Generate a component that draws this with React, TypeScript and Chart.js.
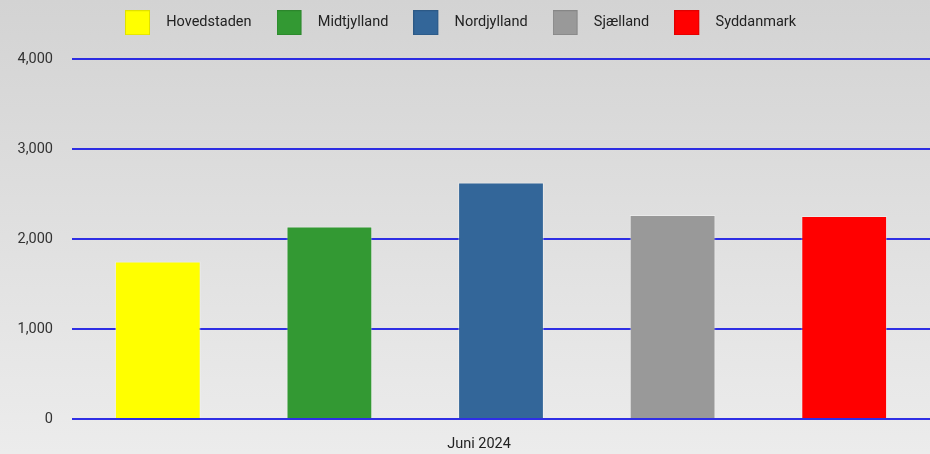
import React, { useEffect, useRef } from "react";
import { Chart, registerables } from "chart.js";

Chart.register(...registerables);

const categories = ["Juni 2024"];
const regions = ["Hovedstaden", "Midtjylland", "Nordjylland", "Sjælland", "Syddanmark"];
const values = [1750, 2138, 2628, 2268, 2255];
const colors = ["#ffff00", "#339933", "#336699", "#999999", "#ff0000"];
const yTicks = [0, 1000, 2000, 3000, 4000];

function makeSwatch(color: string): HTMLCanvasElement {
  const c = document.createElement("canvas");
  c.width = 34;
  c.height = 25;
  const ctx = c.getContext("2d")!;
  ctx.fillStyle = color;
  ctx.fillRect(0, 0, 25, 25);
  ctx.strokeStyle = "rgba(0,0,0,0.12)";
  ctx.lineWidth = 1;
  ctx.strokeRect(0.5, 0.5, 24, 24);
  return c;
}

export default function App() {
  const ref = useRef<HTMLCanvasElement>(null);
  useEffect(() => {
    document.body.style.margin = "0";
    const swatches = colors.map(makeSwatch);
    const chart = new Chart(ref.current!, {
      type: "bar",
      data: {
        labels: categories,
        datasets: regions.map((r, i) => ({
          label: r,
          data: [values[i]],
          backgroundColor: colors[i],
          borderColor: "rgba(255,255,255,0.35)",
          borderWidth: 1,
          barPercentage: 0.5,
          categoryPercentage: 1.0,
        })),
      },
      options: {
        animation: false,
        responsive: false,
        maintainAspectRatio: false,
        layout: { padding: { left: 0, top: 0, bottom: 0, right: -1 } },
        plugins: {
          tooltip: { enabled: false },
          legend: {
            position: "top",
            align: "center",
            labels: {
              usePointStyle: true,
              pointStyleWidth: 34,
              padding: 25,
              color: "#222",
              font: { family: "Roboto", size: 14.5 },
              generateLabels: (chart: any) => {
                const base = Chart.defaults.plugins.legend.labels.generateLabels(chart);
                return base.map((l: any, i: number) => ({ ...l, pointStyle: swatches[i] }));
              },
            },
          },
        },
        scales: {
          x: {
            grid: { display: false, drawTicks: false },
            border: { display: false },
            ticks: {
              color: "#222",
              font: { family: "Roboto", size: 14.5 },
              padding: 17,
              labelOffset: -22,
            },
            afterFit: (s: any) => { s.height = 35; },
          },
          y: {
            min: 0,
            max: 4000,
            afterBuildTicks: (s: any) => { s.ticks = yTicks.map((v) => ({ value: v })); },
            grid: { color: "rgba(20,20,228,0.88)", lineWidth: 2, drawTicks: false },
            border: { display: false },
            ticks: {
              color: "#333",
              font: { family: "Roboto", size: 14.5 },
              padding: 19,
              callback: (v: any) => Number(v).toLocaleString("en-US"),
            },
            afterFit: (s: any) => { s.width = 72; },
          },
        },
      },
      plugins: [
        {
          id: "legendFix",
          beforeInit(c: any) {
            const lg = c.legend;
            if (lg) {
              const orig = lg.fit;
              lg.fit = function () {
                orig.call(this);
                this.height = 59;
              };
            }
          },
          afterLayout(c: any) {
            const lg = c.legend;
            if (lg) {
              lg.top -= 9.5;
              lg.bottom -= 9.5;
              lg.left -= 5;
              lg.right -= 5;
            }
          },
        },
      ],
    });
    return () => chart.destroy();
  }, []);
  return (
    <div
      style={{
        width: 930,
        height: 454,
        overflow: "hidden",
        background: "linear-gradient(to bottom, #d3d3d3 0%, #ececec 100%)",
      }}
    >
      <canvas ref={ref} width={930} height={454} style={{ display: "block" }} />
    </div>
  );
}
